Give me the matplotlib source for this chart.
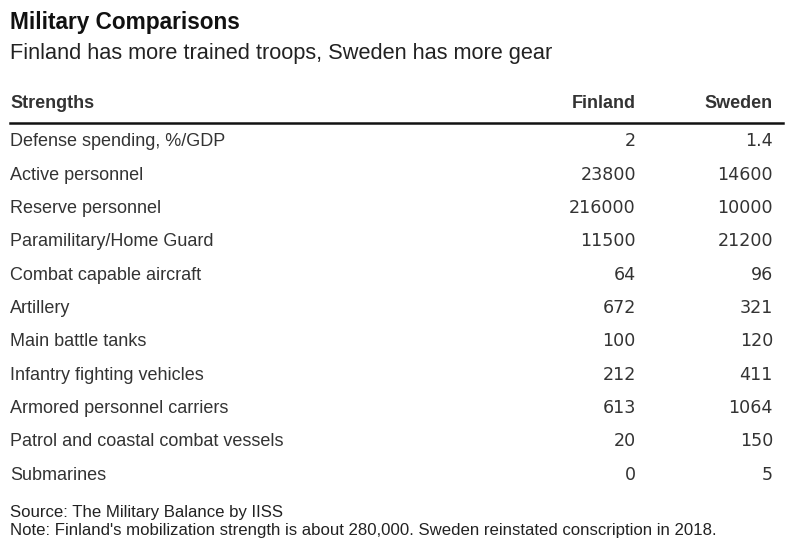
import matplotlib.pyplot as plt
from matplotlib.lines import Line2D

plt.rcParams['font.family'] = ['Liberation Sans', 'DejaVu Sans']

# table contents
strengths = ['Defense spending, %/GDP', 'Active personnel', 'Reserve personnel',
             'Paramilitary/Home Guard', 'Combat capable aircraft', 'Artillery',
             'Main battle tanks', 'Infantry fighting vehicles',
             'Armored personnel carriers', 'Patrol and coastal combat vessels',
             'Submarines']
finland = [2, 23800, 216000, 11500, 64, 672, 100, 212, 613, 20, 0]
sweden = [1.4, 14600, 10000, 21200, 96, 321, 120, 411, 1064, 150, 5]
columns = ['Strengths', 'Finland', 'Sweden']

W, H = 800, 555
fig = plt.figure(figsize=(W / 100, H / 100), dpi=100)
fig.patch.set_facecolor('white')


def px(x, y):
    return x / W, 1 - y / H


txt = '#333333'
fig.text(*px(10, 23), 'Military Comparisons', fontsize=16.3, fontweight='bold',
         color='#111111', va='center')
fig.text(*px(10, 54), 'Finland has more trained troops, Sweden has more gear',
         fontsize=15.7, color='#222222', va='center')

col_x = [10, 636, 773]
fig.text(*px(col_x[0], 103), columns[0], fontsize=13, fontweight='bold', color=txt, va='center')
fig.text(*px(col_x[1], 103), columns[1], fontsize=13, fontweight='bold', color=txt,
         va='center', ha='right')
fig.text(*px(col_x[2], 103), columns[2], fontsize=13, fontweight='bold', color=txt,
         va='center', ha='right')

x0, y0 = px(10, 123)
x1, _ = px(783, 123)
fig.add_artist(Line2D([x0, x1], [y0, y0], color='#111111', lw=1.8))

# rows, aligned on a shared baseline
row_h = 33.3
num_font = ['DejaVu Sans']
for i, (lab, f, s) in enumerate(zip(strengths, finland, sweden)):
    y = 146.5 + i * row_h
    fig.text(*px(col_x[0], y), lab, fontsize=13, color=txt, va='baseline')
    fig.text(*px(col_x[1], y), f'{f:g}', fontsize=12.6, color=txt, va='baseline', ha='right',
             family=num_font)
    fig.text(*px(col_x[2], y), f'{s:g}', fontsize=12.6, color=txt, va='baseline', ha='right',
             family=num_font)

fig.text(*px(10, 513), 'Source: The Military Balance by IISS', fontsize=12.1,
         color='#222222', va='center')
fig.text(*px(10, 530),
         "Note: Finland's mobilization strength is about 280,000. Sweden reinstated conscription in 2018.",
         fontsize=12.1, color='#222222', va='center')

fig.savefig('out.png', dpi=100)
